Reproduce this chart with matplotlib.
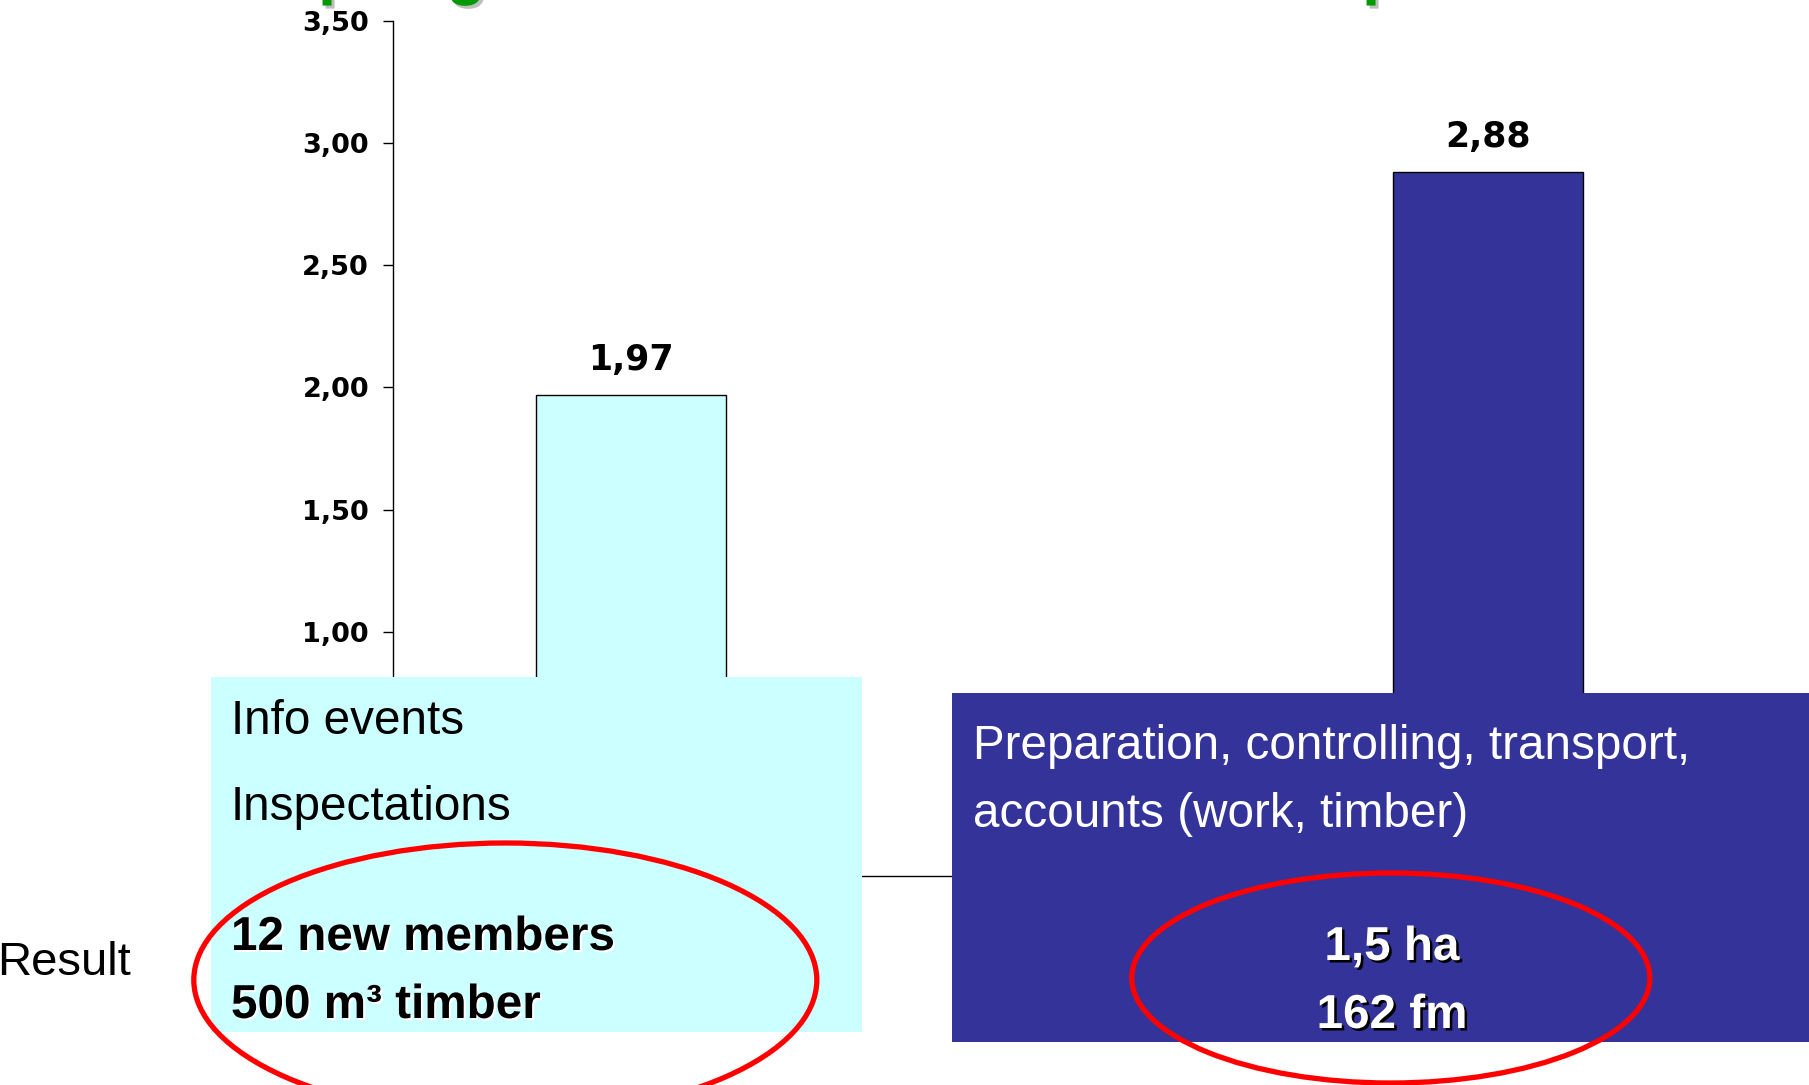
import numpy as np
import matplotlib.pyplot as plt
from matplotlib.patches import Rectangle, Ellipse
import matplotlib.patheffects as pe

# データ
values = [1.97, 2.88]
bar_colors = ['#CCFFFF', '#333399']
yticks = [0.0, 0.5, 1.0, 1.5, 2.0, 2.5, 3.0, 3.5]
ytick_labels = [f"{v:.2f}".replace('.', ',') for v in yticks]
value_labels = [f"{v:.2f}".replace('.', ',') for v in values]

left_lines = ["Info events", "Inspectations"]
left_result = ["12 new members", "500 m³ timber"]
right_lines = ["Preparation, controlling, transport,", "accounts (work, timber)"]
right_result = ["1,5 ha", "162 fm"]

W, H = 1809, 1085


def fx(x):
    return x / W


def fy(y):
    return 1 - y / H


fig = plt.figure(figsize=(W / 100, H / 100), dpi=100)

# グラフ本体
ax = fig.add_axes([fx(393.4), fy(876.1), 1 - fx(393.4), (876.1 - 20.7) / H])
x = np.arange(len(values))
bars = ax.bar(x, values, width=0.2216, color=bar_colors, edgecolor='black',
              linewidth=1.0, zorder=2)
ax.set_xlim(-0.2772, 1.374)
ax.set_ylim(0, 3.5)
for s in ['top', 'right']:
    ax.spines[s].set_visible(False)
ax.spines['left'].set_linewidth(1.0)
ax.spines['bottom'].set_linewidth(1.0)
ax.set_xticks([])
ax.set_yticks(yticks)
ax.set_yticklabels(ytick_labels, fontfamily='DejaVu Sans', fontweight='bold',
                   fontsize=19.5)
ax.tick_params(axis='y', direction='out', length=7, width=1, pad=10.5)
ax.bar_label(bars, labels=value_labels, padding=13, fontfamily='DejaVu Sans',
             fontweight='bold', fontsize=25)

# 上部タイトルの切れ端
shadow_g = [pe.SimplePatchShadow(offset=(2.2, -2.2), shadow_rgbFace='#BEBEBE', alpha=1), pe.Normal()]
for ch, px in [("p", 318), ("g", 446), ("p", 1362)]:
    fig.text(fx(px), fy(-8), ch, fontfamily='Liberation Sans', fontweight='bold',
             fontsize=47, color='#009900', ha='left', va='baseline',
             path_effects=shadow_g, zorder=9)

# テキストボックス
fig.add_artist(Rectangle((fx(211), fy(1031.7)), (862 - 211) / W, (1031.7 - 676.7) / H,
                         transform=fig.transFigure, facecolor='#CCFFFF',
                         edgecolor='none', zorder=5))
fig.add_artist(Rectangle((fx(951.8), fy(1041.5)), 1 - fx(951.8), (1041.5 - 693.3) / H,
                         transform=fig.transFigure, facecolor='#333399',
                         edgecolor='none', zorder=5))

fs = 34.3
for txt, yy in zip(left_lines, [734, 820]):
    fig.text(fx(231), fy(yy), txt, fontfamily='Liberation Sans', fontsize=fs,
             color='black', ha='left', va='baseline', zorder=8)
shadow_w = [pe.SimplePatchShadow(offset=(1.5, -1.5), shadow_rgbFace='white', alpha=1), pe.Normal()]
for txt, yy in zip(left_result, [950, 1018]):
    fig.text(fx(231), fy(yy), txt, fontfamily='Liberation Sans', fontweight='bold',
             fontsize=fs, color='black', ha='left', va='baseline',
             path_effects=shadow_w, zorder=8)

for txt, yy in zip(right_lines, [759, 827]):
    fig.text(fx(972.6), fy(yy), txt, fontfamily='Liberation Sans', fontsize=fs,
             color='white', ha='left', va='baseline', zorder=8)
shadow_k = [pe.SimplePatchShadow(offset=(1.8, -1.8), shadow_rgbFace='black', alpha=1), pe.Normal()]
for txt, yy in zip(right_result, [960, 1028]):
    fig.text(fx(1392), fy(yy), txt, fontfamily='Liberation Sans', fontweight='bold',
             fontsize=fs, color='white', ha='center', va='baseline',
             path_effects=shadow_k, zorder=8)

fig.text(fx(-3), fy(975), "Result", fontfamily='Liberation Sans', fontsize=34,
         color='black', ha='left', va='baseline', zorder=8)

# 赤い楕円
fig.add_artist(Ellipse((fx(505.3), fy(980)), 623 / W, 274 / H, transform=fig.transFigure,
                       fill=False, edgecolor='#FF0000', linewidth=3.8, zorder=7))
fig.add_artist(Ellipse((fx(1390.8), fy(978)), 518 / W, 210 / H, transform=fig.transFigure,
                       fill=False, edgecolor='#FF0000', linewidth=3.8, zorder=7))

fig.savefig('out.png', dpi=100)
